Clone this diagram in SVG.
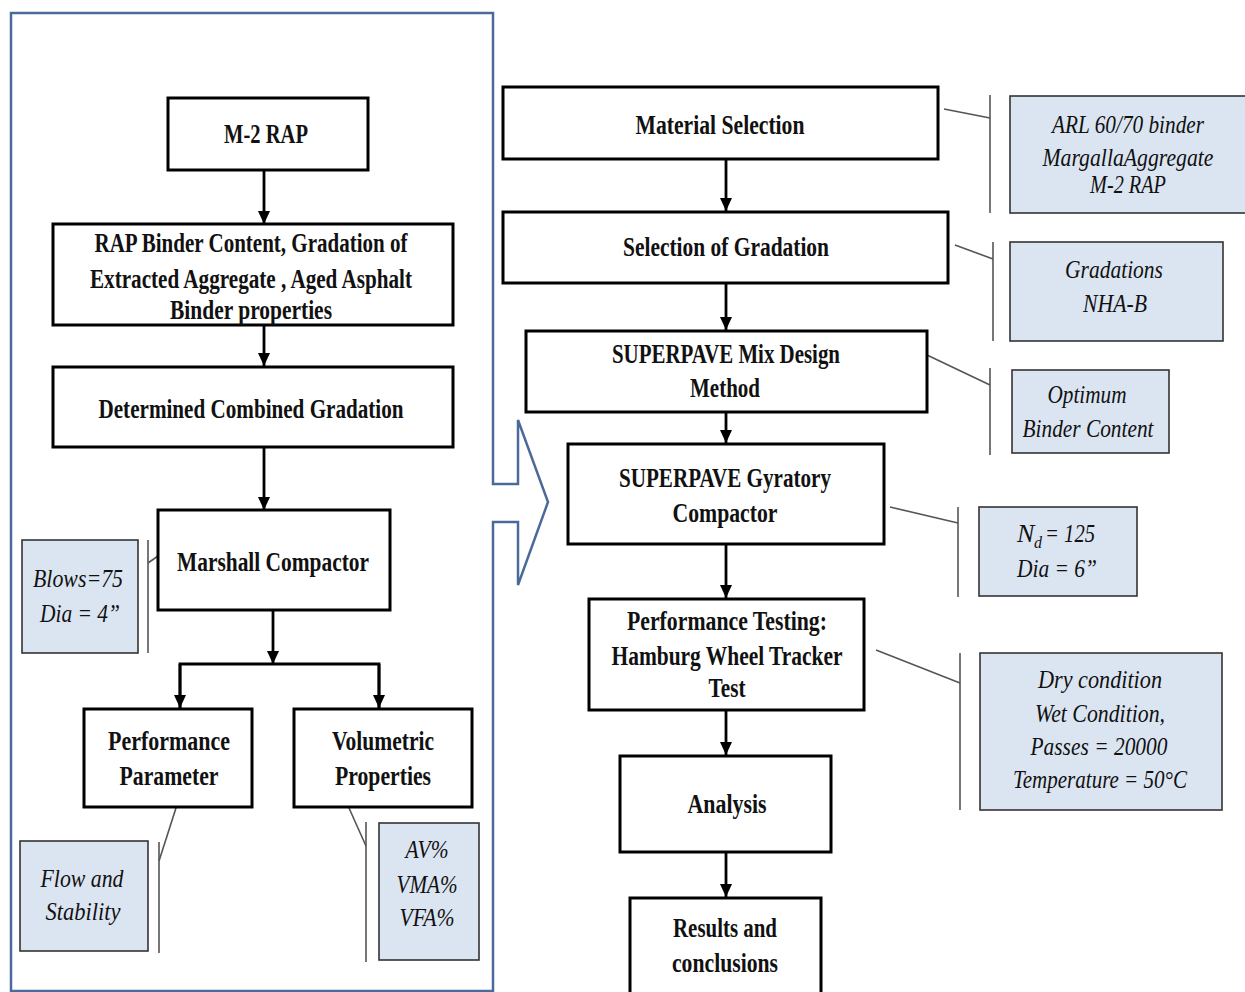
<svg xmlns="http://www.w3.org/2000/svg" width="1245" height="992" viewBox="0 0 1245 992">
<defs>
<marker id="ah" markerUnits="userSpaceOnUse" markerWidth="14" markerHeight="14" viewBox="0 0 14 14" refX="13" refY="7" orient="auto">
<path d="M0,1 L13,7 L0,13 Z" fill="#000"/>
</marker>
</defs>
<style>
.frame{fill:none;stroke:#4a6b9a;stroke-width:2.5}
.box{fill:#fff;stroke:#000;stroke-width:3}
.note{fill:#dbe5f1;stroke:#333;stroke-width:1.6}
.br{stroke:#555;stroke-width:1.6;fill:none}
.con{stroke:#000;stroke-width:2.8;fill:none}
.b{font-family:"Liberation Serif",serif;font-weight:bold;font-size:27px;fill:#111;text-anchor:middle}
.i{font-family:"Liberation Serif",serif;font-style:italic;font-size:26px;fill:#111;text-anchor:middle}
.s{text-anchor:start}
.sub{font-size:16px}
</style>
<rect width="1245" height="992" fill="#fff"/>
<path class="frame" d="M11,13 H493 V484 H518 V420 L548,502 L518,585 V522 H493 V991 H11 Z"/>

<g id="connectors">
<line class="con" x1="264" y1="171" x2="264" y2="224" marker-end="url(#ah)"/>
<line class="con" x1="264" y1="325" x2="264" y2="366" marker-end="url(#ah)"/>
<line class="con" x1="264" y1="448" x2="264" y2="510" marker-end="url(#ah)"/>
<line class="con" x1="273" y1="610" x2="273" y2="664" marker-end="url(#ah)"/>
<polyline class="con" points="180,708 180,664 379,664 379,708"/>
<line class="con" x1="180" y1="664" x2="180" y2="708" marker-end="url(#ah)"/>
<line class="con" x1="379" y1="664" x2="379" y2="708" marker-end="url(#ah)"/>
<line class="con" x1="726" y1="160" x2="726" y2="211" marker-end="url(#ah)"/>
<line class="con" x1="726" y1="283" x2="726" y2="330" marker-end="url(#ah)"/>
<line class="con" x1="726" y1="412" x2="726" y2="443" marker-end="url(#ah)"/>
<line class="con" x1="726" y1="544" x2="726" y2="598" marker-end="url(#ah)"/>
<line class="con" x1="726" y1="710" x2="726" y2="755" marker-end="url(#ah)"/>
<line class="con" x1="726" y1="852" x2="726" y2="897" marker-end="url(#ah)"/>
<line class="br" x1="148" y1="540" x2="148" y2="653"/>
<line class="br" x1="148" y1="563" x2="158" y2="556"/>
<line class="br" x1="159" y1="842" x2="159" y2="953"/>
<line class="br" x1="159" y1="861" x2="176" y2="808"/>
<line class="br" x1="366" y1="822" x2="366" y2="962"/>
<line class="br" x1="349" y1="808" x2="366" y2="846"/>
<line class="br" x1="990" y1="95" x2="990" y2="213"/>
<line class="br" x1="944" y1="109" x2="990" y2="118"/>
<line class="br" x1="993" y1="242" x2="993" y2="341"/>
<line class="br" x1="955" y1="245" x2="993" y2="259"/>
<line class="br" x1="990" y1="368" x2="990" y2="455"/>
<line class="br" x1="927" y1="355" x2="990" y2="385"/>
<line class="br" x1="958" y1="507" x2="958" y2="597"/>
<line class="br" x1="890" y1="507" x2="958" y2="523"/>
<line class="br" x1="960" y1="653" x2="960" y2="810"/>
<line class="br" x1="876" y1="650" x2="960" y2="683"/>
</g>

<g id="m2rap"><rect class="box" x="168" y="98" width="200" height="72"/>
<text class="b" x="266" y="143" textLength="84" lengthAdjust="spacingAndGlyphs">M-2 RAP</text></g>

<g id="rapbinder"><rect class="box" x="53" y="224" width="400" height="101"/>
<text class="b" x="251" y="252" textLength="313" lengthAdjust="spacingAndGlyphs">RAP Binder Content, Gradation of</text>
<text class="b" x="251" y="288" textLength="322" lengthAdjust="spacingAndGlyphs">Extracted Aggregate , Aged Asphalt</text>
<text class="b" x="251" y="319" textLength="162" lengthAdjust="spacingAndGlyphs">Binder properties</text></g>

<g id="combined"><rect class="box" x="53" y="367" width="400" height="80"/>
<text class="b" x="251" y="418" textLength="305" lengthAdjust="spacingAndGlyphs">Determined Combined Gradation</text></g>

<g id="marshall"><rect class="box" x="158" y="510" width="232" height="100"/>
<text class="b" x="273" y="571" textLength="192" lengthAdjust="spacingAndGlyphs">Marshall Compactor</text></g>

<g id="perfparam"><rect class="box" x="84" y="709" width="168" height="98"/>
<text class="b" x="169" y="750" textLength="122" lengthAdjust="spacingAndGlyphs">Performance</text>
<text class="b" x="169" y="785" textLength="99" lengthAdjust="spacingAndGlyphs">Parameter</text></g>

<g id="volumetric"><rect class="box" x="294" y="709" width="178" height="98"/>
<text class="b" x="383" y="750" textLength="102" lengthAdjust="spacingAndGlyphs">Volumetric</text>
<text class="b" x="383" y="785" textLength="96" lengthAdjust="spacingAndGlyphs">Properties</text></g>

<g id="blows"><rect class="note" x="22" y="540" width="116" height="113"/>
<text class="i" x="78" y="587" textLength="90" lengthAdjust="spacingAndGlyphs">Blows=75</text>
<text class="i" x="80" y="622" textLength="80" lengthAdjust="spacingAndGlyphs">Dia = 4”</text></g>

<g id="flow"><rect class="note" x="20" y="841" width="128" height="110"/>
<text class="i" x="82" y="887" textLength="83" lengthAdjust="spacingAndGlyphs">Flow and</text>
<text class="i" x="83" y="920" textLength="75" lengthAdjust="spacingAndGlyphs">Stability</text></g>

<g id="avvma"><rect class="note" x="379" y="823" width="100" height="137"/>
<text class="i" x="427" y="858" textLength="43" lengthAdjust="spacingAndGlyphs">AV%</text>
<text class="i" x="427" y="893" textLength="61" lengthAdjust="spacingAndGlyphs">VMA%</text>
<text class="i" x="427" y="926" textLength="55" lengthAdjust="spacingAndGlyphs">VFA%</text></g>

<g id="material"><rect class="box" x="503" y="87" width="435" height="72"/>
<text class="b" x="720" y="134" textLength="169" lengthAdjust="spacingAndGlyphs">Material Selection</text></g>

<g id="selgrad"><rect class="box" x="503" y="212" width="445" height="71"/>
<text class="b" x="726" y="256" textLength="206" lengthAdjust="spacingAndGlyphs">Selection of Gradation</text></g>

<g id="mixdesign"><rect class="box" x="526" y="331" width="401" height="81"/>
<text class="b" x="726" y="363" textLength="228" lengthAdjust="spacingAndGlyphs">SUPERPAVE Mix Design</text>
<text class="b" x="725" y="397" textLength="70" lengthAdjust="spacingAndGlyphs">Method</text></g>

<g id="gyratory"><rect class="box" x="568" y="444" width="316" height="100"/>
<text class="b" x="725" y="487" textLength="212" lengthAdjust="spacingAndGlyphs">SUPERPAVE Gyratory</text>
<text class="b" x="725" y="522" textLength="105" lengthAdjust="spacingAndGlyphs">Compactor</text></g>

<g id="hwt"><rect class="box" x="589" y="599" width="275" height="111"/>
<text class="b" x="727" y="630" textLength="200" lengthAdjust="spacingAndGlyphs">Performance Testing:</text>
<text class="b" x="727" y="665" textLength="231" lengthAdjust="spacingAndGlyphs">Hamburg Wheel Tracker</text>
<text class="b" x="727" y="697" textLength="37" lengthAdjust="spacingAndGlyphs">Test</text></g>

<g id="analysis"><rect class="box" x="620" y="756" width="211" height="96"/>
<text class="b" x="727" y="813" textLength="79" lengthAdjust="spacingAndGlyphs">Analysis</text></g>

<g id="results"><rect class="box" x="630" y="898" width="191" height="100"/>
<text class="b" x="725" y="937" textLength="104" lengthAdjust="spacingAndGlyphs">Results and</text>
<text class="b" x="725" y="972" textLength="106" lengthAdjust="spacingAndGlyphs">conclusions</text></g>

<g id="materials-note"><rect class="note" x="1010" y="96" width="245" height="117"/>
<text class="i" x="1128" y="133" textLength="152" lengthAdjust="spacingAndGlyphs">ARL 60/70 binder</text>
<text class="i" x="1128" y="166" textLength="171" lengthAdjust="spacingAndGlyphs">MargallaAggregate</text>
<text class="i" x="1128" y="193" textLength="76" lengthAdjust="spacingAndGlyphs">M-2 RAP</text></g>

<g id="gradations-note"><rect class="note" x="1010" y="242" width="213" height="99"/>
<text class="i" x="1114" y="278" textLength="98" lengthAdjust="spacingAndGlyphs">Gradations</text>
<text class="i" x="1115" y="312" textLength="64" lengthAdjust="spacingAndGlyphs">NHA-B</text></g>

<g id="optimum-note"><rect class="note" x="1012" y="370" width="157" height="83"/>
<text class="i" x="1087" y="403" textLength="79" lengthAdjust="spacingAndGlyphs">Optimum</text>
<text class="i" x="1088" y="437" textLength="131" lengthAdjust="spacingAndGlyphs">Binder Content</text></g>

<g id="nd-note"><rect class="note" x="979" y="507" width="158" height="89"/>
<text class="i s" x="1017" y="542">N</text>
<text class="i s sub" x="1034" y="548">d</text>
<text class="i s" x="1045" y="542" textLength="50" lengthAdjust="spacingAndGlyphs">= 125</text>
<text class="i" x="1057" y="577" textLength="80" lengthAdjust="spacingAndGlyphs">Dia = 6”</text></g>

<g id="hwt-note"><rect class="note" x="980" y="653" width="242" height="157"/>
<text class="i" x="1100" y="688" textLength="124" lengthAdjust="spacingAndGlyphs">Dry condition</text>
<text class="i" x="1100" y="722" textLength="130" lengthAdjust="spacingAndGlyphs">Wet Condition,</text>
<text class="i" x="1099" y="755" textLength="137" lengthAdjust="spacingAndGlyphs">Passes = 20000</text>
<text class="i" x="1100" y="788" textLength="174" lengthAdjust="spacingAndGlyphs">Temperature = 50°C</text></g>
</svg>
